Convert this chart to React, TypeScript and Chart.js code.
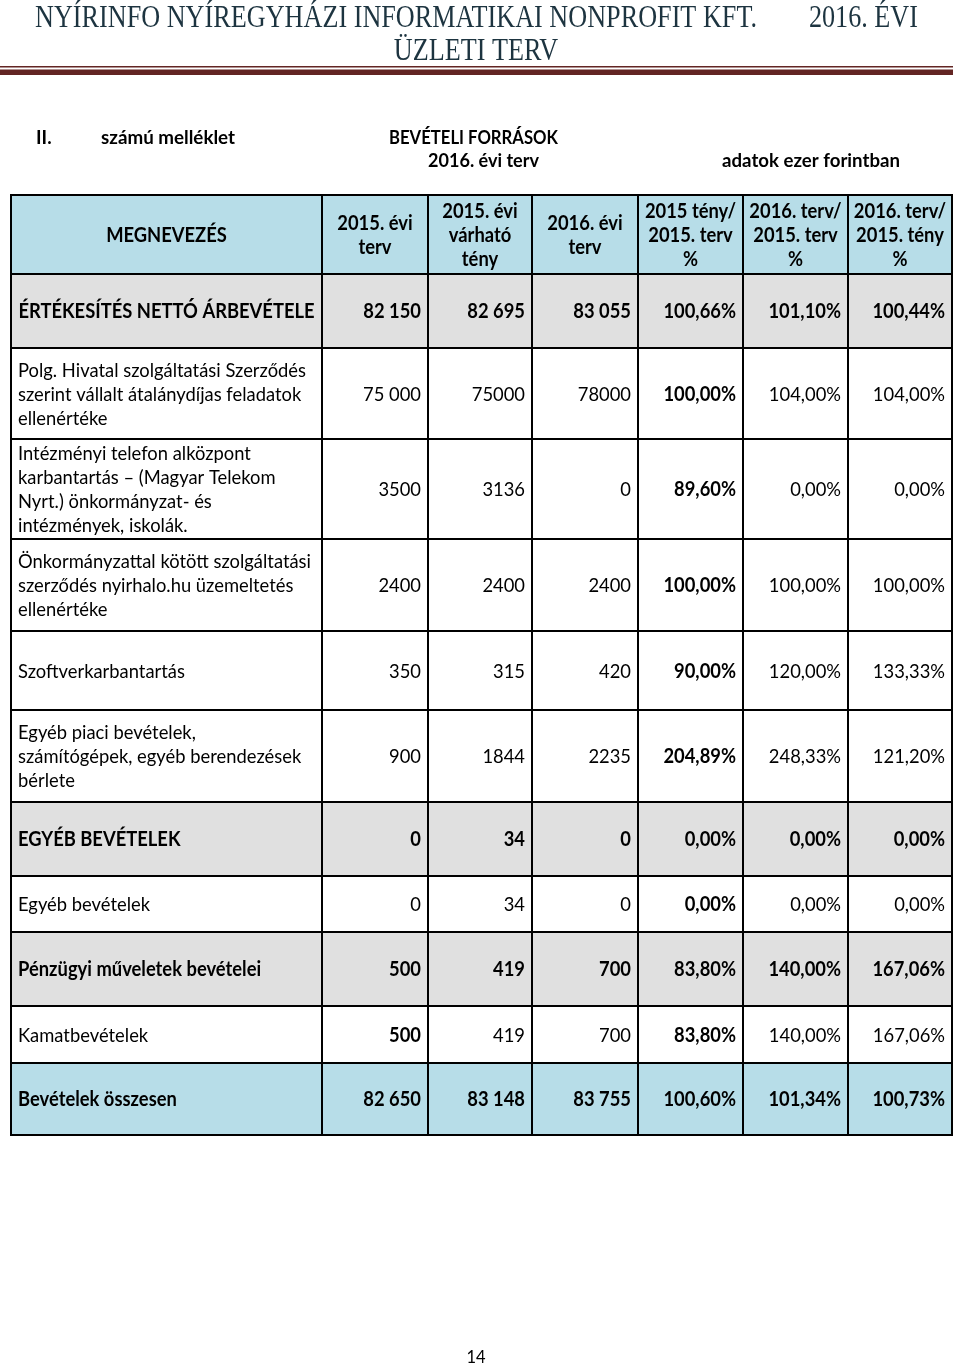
import React, { useEffect, useRef } from "react";
import { Chart, registerables } from "chart.js";

Chart.register(...registerables);

// ---------- DATA ----------
const titleLine1 = "NYÍRINFO NYÍREGYHÁZI INFORMATIKAI NONPROFIT KFT.";
const titleLine1b = "2016. ÉVI";
const titleLine2 = "ÜZLETI TERV";
const annexNo = "II.";
const annexText = "számú melléklet";
const sectionTitle = "BEVÉTELI FORRÁSOK";
const sectionSub = "2016. évi terv";
const unitNote = "adatok ezer forintban";
const pageNumber = "14";

const columnHeaders: string[][] = [
  ["MEGNEVEZÉS"],
  ["2015. évi", "terv"],
  ["2015. évi", "várható", "tény"],
  ["2016. évi", "terv"],
  ["2015 tény/", "2015. terv", "%"],
  ["2016. terv/", "2015. terv", "%"],
  ["2016. terv/", "2015. tény", "%"],
];

const categories: string[][] = [
  ["ÉRTÉKESÍTÉS NETTÓ ÁRBEVÉTELE"],
  ["Polg. Hivatal szolgáltatási Szerződés", "szerint vállalt átalánydíjas feladatok", "ellenértéke"],
  ["Intézményi telefon alközpont", "karbantartás – (Magyar Telekom", "Nyrt.) önkormányzat- és", "intézmények, iskolák."],
  ["Önkormányzattal kötött szolgáltatási", "szerződés nyirhalo.hu üzemeltetés", "ellenértéke"],
  ["Szoftverkarbantartás"],
  ["Egyéb piaci bevételek,", "számítógépek, egyéb berendezések", "bérlete"],
  ["EGYÉB BEVÉTELEK"],
  ["Egyéb bevételek"],
  ["Pénzügyi műveletek bevételei"],
  ["Kamatbevételek"],
  ["Bevételek összesen"],
];

const plan2015 = [82150, 75000, 3500, 2400, 350, 900, 0, 0, 500, 500, 82650];
const expected2015 = [82695, 75000, 3136, 2400, 315, 1844, 34, 34, 419, 419, 83148];
const plan2016 = [83055, 78000, 0, 2400, 420, 2235, 0, 0, 700, 700, 83755];
const pctFact15Plan15 = [100.66, 100.0, 89.6, 100.0, 90.0, 204.89, 0, 0, 83.8, 83.8, 100.6];
const pctPlan16Plan15 = [101.1, 104.0, 0, 100.0, 120.0, 248.33, 0, 0, 140.0, 140.0, 101.34];
const pctPlan16Fact15 = [100.44, 104.0, 0, 100.0, 133.33, 121.2, 0, 0, 167.06, 167.06, 100.73];

// row style: "sum" = grey bold, "total" = blue bold, "item" = white
const rowKind = ["sum", "item", "item", "item", "item", "item", "sum", "item", "sum", "item", "total"];
// cells written with a thousands separator in the source: [row, valueColumn]
const groupedCells: [number, number][] = [[0, 0], [0, 1], [0, 2], [1, 0], [10, 0], [10, 1], [10, 2]];
// extra bold cells in non-bold rows: [row, valueColumn]
const boldCells: [number, number][] = [[9, 0]];
const boldColumnAlways = 3; // the "2015 tény / 2015. terv %" column

// ---------- LAYOUT ----------
const W = 960;
const H = 1366;
const colEdges = [11, 322, 428, 532, 638, 743, 848, 952];
const rowEdges = [195, 274, 348, 439, 539, 631, 710, 802, 876, 932, 1006, 1063, 1135];
const LINE_H = 24;
const BLUE = "#b7dde8";
const GREY = "#e0e0e0";
const TEXT = "#000000";
const TITLE_COLOR = "#1d3440";
const RULE_COLOR = "#632523";
const TFONT = "Lato";
const TSIZE = 20;

function fmtNum(v: number, grouped: boolean): string {
  const s = String(v);
  if (!grouped) return s;
  return s.replace(/\B(?=(\d{3})+(?!\d))/g, " ");
}
function fmtPct(v: number): string {
  return v.toFixed(2).replace(".", ",") + "%";
}

function drawText(
  ctx: CanvasRenderingContext2D,
  text: string,
  x: number,
  y: number,
  font: string,
  align: CanvasTextAlign,
  sx: number,
  color: string
) {
  ctx.save();
  ctx.font = font;
  ctx.fillStyle = color;
  ctx.textAlign = align;
  ctx.textBaseline = "alphabetic";
  ctx.translate(x, y);
  ctx.scale(sx, 1);
  ctx.fillText(text, 0, 0);
  ctx.restore();
}

function fitScale(ctx: CanvasRenderingContext2D, text: string, font: string, width: number) {
  ctx.save();
  ctx.font = font;
  const w = ctx.measureText(text).width;
  ctx.restore();
  return w > 0 ? width / w : 1;
}

const tablePlugin = {
  id: "tablePlugin",
  afterDraw(chart: any) {
    const ctx: CanvasRenderingContext2D = chart.ctx;
    const xs = chart.scales.x;
    const ys = chart.scales.y;
    const px = (v: number) => xs.getPixelForValue(v);
    const py = (v: number) => ys.getPixelForValue(v);

    const regular = `${TSIZE}px ${TFONT}`;
    const bold = `bold ${TSIZE}px ${TFONT}`;
    const sx = fitScale(ctx, categories[1][0], regular, 288);

    // ---- Title ----
    const titleFont = "32px 'Liberation Serif'";
    const tsx = fitScale(ctx, titleLine1, titleFont, 722);
    drawText(ctx, titleLine1, px(35), py(27), titleFont, "left", tsx, TITLE_COLOR);
    drawText(ctx, titleLine1b, px(918), py(27), titleFont, "right", tsx, TITLE_COLOR);
    drawText(ctx, titleLine2, px(476), py(60), titleFont, "center", tsx, TITLE_COLOR);

    // rule
    ctx.save();
    ctx.fillStyle = RULE_COLOR;
    ctx.fillRect(px(0), py(66), px(953) - px(0), 1.5);
    ctx.fillRect(px(0), py(69.5), px(953) - px(0), 5.5);
    ctx.restore();

    // ---- Sub headings ----
    const subFont = `bold 18px ${TFONT}`;
    const ssx = fitScale(ctx, annexText, subFont, 134);
    drawText(ctx, annexNo, px(36), py(144), subFont, "left", ssx, TEXT);
    drawText(ctx, annexText, px(101), py(144), subFont, "left", ssx, TEXT);
    drawText(ctx, sectionTitle, px(389), py(144), subFont, "left", fitScale(ctx, sectionTitle, subFont, 169), TEXT);
    drawText(ctx, sectionSub, px(428), py(167), subFont, "left", fitScale(ctx, sectionSub, subFont, 111), TEXT);
    drawText(ctx, unitNote, px(722), py(167), subFont, "left", fitScale(ctx, unitNote, subFont, 178), TEXT);

    // ---- fills ----
    const left = px(colEdges[0]);
    const right = px(colEdges[colEdges.length - 1]);
    ctx.save();
    ctx.fillStyle = BLUE;
    ctx.fillRect(left, py(rowEdges[0]), right - left, py(rowEdges[1]) - py(rowEdges[0]));
    for (let r = 0; r < categories.length; r++) {
      const kind = rowKind[r];
      if (kind === "item") continue;
      ctx.fillStyle = kind === "total" ? BLUE : GREY;
      const t = py(rowEdges[r + 1]);
      const b = py(rowEdges[r + 2]);
      ctx.fillRect(left, t, right - left, b - t);
    }
    ctx.restore();

    // ---- header text ----
    const hc = (py(rowEdges[0]) + py(rowEdges[1])) / 2;
    columnHeaders.forEach((lines, c) => {
      const cx = (px(colEdges[c]) + px(colEdges[c + 1])) / 2;
      lines.forEach((ln, i) => {
        const y = hc + (i - (lines.length - 1) / 2) * LINE_H + 7.5;
        drawText(ctx, ln, cx, y, bold, "center", sx, TEXT);
      });
    });

    // ---- body ----
    const series = [plan2015, expected2015, plan2016, pctFact15Plan15, pctPlan16Plan15, pctPlan16Fact15];
    for (let r = 0; r < categories.length; r++) {
      const top = py(rowEdges[r + 1]);
      const bot = py(rowEdges[r + 2]);
      const cy = (top + bot) / 2;
      const rowBold = rowKind[r] !== "item";
      const lines = categories[r];
      lines.forEach((ln, i) => {
        const y = cy + (i - (lines.length - 1) / 2) * LINE_H + 7;
        if (r === 0) {
          const cx = (px(colEdges[0]) + px(colEdges[1])) / 2;
          drawText(ctx, ln, cx, y, bold, "center", sx, TEXT);
        } else {
          drawText(ctx, ln, px(colEdges[0] + 7), y, rowBold ? bold : regular, "left", sx, TEXT);
        }
      });
      series.forEach((s, k) => {
        const v = s[r];
        const grouped = groupedCells.some(([gr, gc]) => gr === r && gc === k);
        const txt = k < 3 ? fmtNum(v, grouped) : fmtPct(v);
        const isBold =
          rowBold || k === boldColumnAlways || boldCells.some(([br, bc]) => br === r && bc === k);
        drawText(ctx, txt, px(colEdges[k + 2] - 7), cy + 7, isBold ? bold : regular, "right", sx, TEXT);
      });
    }

    // ---- grid lines ----
    ctx.save();
    ctx.strokeStyle = "#000";
    ctx.lineWidth = 2;
    ctx.beginPath();
    rowEdges.forEach((e) => {
      ctx.moveTo(left - 1, py(e));
      ctx.lineTo(right + 1, py(e));
    });
    const top = py(rowEdges[0]);
    const bottom = py(rowEdges[rowEdges.length - 1]);
    colEdges.forEach((e) => {
      ctx.moveTo(px(e), top - 1);
      ctx.lineTo(px(e), bottom + 1);
    });
    ctx.stroke();
    ctx.restore();

    // page number
    drawText(ctx, pageNumber, px(476), py(1363), `18px ${TFONT}`, "center", sx, TEXT);
  },
};

export default function App() {
  const canvasRef = useRef<HTMLCanvasElement | null>(null);

  useEffect(() => {
    const canvas = canvasRef.current;
    if (!canvas) return;
    const chart = new Chart(canvas, {
      type: "scatter",
      data: { datasets: [] },
      options: {
        animation: false,
        responsive: false,
        maintainAspectRatio: false,
        devicePixelRatio: 1,
        events: [],
        layout: { padding: 0 },
        plugins: { legend: { display: false }, tooltip: { enabled: false }, title: { display: false } },
        scales: {
          x: { type: "linear", min: 0, max: W, display: false },
          y: { type: "linear", min: 0, max: H, reverse: true, display: false },
        },
      },
      plugins: [tablePlugin],
    });
    return () => chart.destroy();
  }, []);

  return (
    <div style={{ position: "absolute", left: 0, top: 0, width: W, height: H, background: "#fff" }}>
      <canvas ref={canvasRef} width={W} height={H} style={{ width: W, height: H, display: "block" }} />
    </div>
  );
}
